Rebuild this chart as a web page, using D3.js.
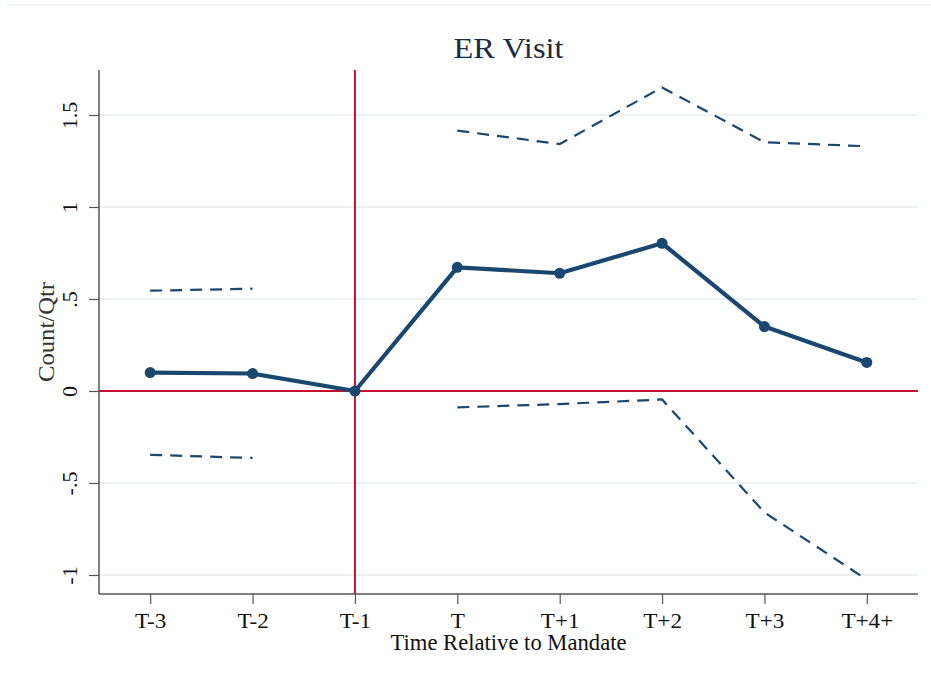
<!DOCTYPE html>
<html><head><meta charset="utf-8">
<script src="https://cdn.jsdelivr.net/npm/d3@7"></script>
<style>body{margin:0;background:#fff}svg{display:block}text{font-family:"Liberation Serif","DejaVu Serif",serif}</style>
</head><body>
<script>
const categories = ["T-3","T-2","T-1","T","T+1","T+2","T+3","T+4+"];
const estimate   = [0.10, 0.095, 0, 0.672, 0.640, 0.803, 0.350, 0.155];
const upperCI    = [0.545, 0.556, null, 1.415, 1.342, 1.650, 1.352, 1.330];
const lowerCI    = [-0.347, -0.364, null, -0.089, -0.071, -0.046, -0.660, -1.025];
const yTicks     = [-1, -0.5, 0, 0.5, 1, 1.5];
const yTickLabels= ["-1", "-.5", "0", ".5", "1", "1.5"];
const refIndex = 2; // T-1 reference period

const W = 931, H = 683;
const svg = d3.select("body").append("svg").attr("width", W).attr("height", H);

const x = d3.scaleLinear().domain([-0.5, 7.5]).range([99, 918]);
const y = d3.scaleLinear().domain([-1.1033, 1.7446]).range([594, 70]);

function stretch(sel, k, target) {
  sel.each(function() {
    const w = this.getComputedTextLength();
    this.setAttribute("textLength", target != null ? target : w * k);
    this.setAttribute("lengthAdjust", "spacingAndGlyphs");
  });
}

// faint outer frame line
svg.append("line").attr("x1", 6).attr("x2", W).attr("y1", 5).attr("y2", 5)
  .attr("stroke", "#eaf1f4").attr("stroke-width", 1.5);

// gridlines
svg.append("g").selectAll("line").data(yTicks).join("line")
  .attr("x1", x(-0.5)).attr("x2", x(7.5))
  .attr("y1", d => y(d)).attr("y2", d => y(d))
  .attr("stroke", "#eaf2f3").attr("stroke-width", 2);

// axes
const yAxis = d3.axisLeft(y).tickValues(yTicks).tickFormat((d,i) => yTickLabels[i]).tickSize(10);
const gy = svg.append("g").attr("transform", `translate(${x(-0.5)},0)`).call(yAxis);
gy.select(".domain").attr("stroke", "#555").attr("stroke-width", 1.5).attr("d", `M0,${y.range()[0]}V${y.range()[1]}`);
gy.selectAll(".tick line").attr("stroke", "#555").attr("stroke-width", 1.2);
gy.selectAll(".tick text").attr("font-size", 20).attr("fill", "#111")
  .attr("text-anchor", "middle").attr("dy", null).attr("x", 0).attr("y", 0)
  .attr("transform", "translate(-22,0) rotate(-90)");
stretch(gy.selectAll(".tick text"), 1.1);

const xAxis = d3.axisBottom(x).tickValues(d3.range(categories.length)).tickFormat(i => categories[i]).tickSize(10).tickPadding(9);
const gx = svg.append("g").attr("transform", `translate(0,${y.range()[0]})`).call(xAxis);
gx.select(".domain").attr("stroke", "#555").attr("stroke-width", 1.5).attr("d", `M${x.range()[0]},0H${x.range()[1]}`);
gx.selectAll(".tick line").attr("stroke", "#555").attr("stroke-width", 1.2);
gx.selectAll(".tick text").attr("font-size", 20.5).attr("fill", "#111");
stretch(gx.selectAll(".tick text"), 1.13);

// reference lines
const red = "#c8102e";
svg.append("line").attr("x1", x(-0.5)).attr("x2", x(7.5)).attr("y1", y(0)).attr("y2", y(0))
  .attr("stroke", red).attr("stroke-width", 2);
svg.append("line").attr("x1", x(refIndex)).attr("x2", x(refIndex)).attr("y1", y.range()[1]).attr("y2", y.range()[0])
  .attr("stroke", red).attr("stroke-width", 2);

const navy = "#1a476f";
// CI dashed lines (gap at reference period)
const ciLine = d3.line().defined(d => d.v != null).x(d => x(d.i)).y(d => y(d.v));
[upperCI, lowerCI].forEach(arr => {
  svg.append("path").datum(arr.map((v,i) => ({i, v})))
    .attr("d", ciLine).attr("fill", "none").attr("stroke", navy)
    .attr("stroke-width", 2.2).attr("stroke-dasharray", "12,8");
});

// estimate line
const estLine = d3.line().x((d,i) => x(i)).y(d => y(d));
svg.append("path").datum(estimate).attr("d", estLine).attr("fill", "none")
  .attr("stroke", navy).attr("stroke-width", 4.2).attr("stroke-linejoin", "round");
svg.append("g").selectAll("circle").data(estimate).join("circle")
  .attr("cx", (d,i) => x(i)).attr("cy", d => y(d)).attr("r", 5.5).attr("fill", navy);

// titles
const cx = (x.range()[0] + x.range()[1]) / 2;
const t1 = svg.append("text").attr("x", cx).attr("y", 57.5)
  .attr("text-anchor", "middle").attr("font-size", 30).attr("fill", "#1c2a44").text("ER Visit");
stretch(t1, null, 110);
const t2 = svg.append("text").attr("x", cx).attr("y", 650)
  .attr("text-anchor", "middle").attr("font-size", 22.5).attr("fill", "#111").text("Time Relative to Mandate");
stretch(t2, null, 236);
const t3 = svg.append("text").attr("transform", `translate(54,${(y.range()[0] + y.range()[1]) / 2}) rotate(-90)`)
  .attr("text-anchor", "middle").attr("font-size", 23).attr("fill", "#333").text("Count/Qtr");
stretch(t3, null, 100);
</script>
</body></html>
